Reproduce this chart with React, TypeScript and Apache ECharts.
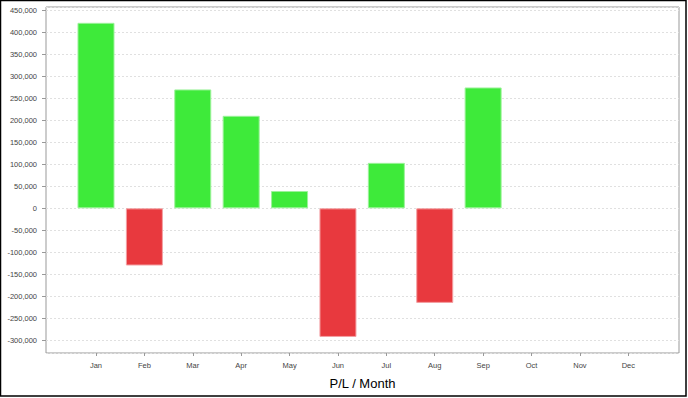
import React, { useEffect, useRef } from "react";
import * as echarts from "echarts";

const months = ["Jan", "Feb", "Mar", "Apr", "May", "Jun", "Jul", "Aug", "Sep", "Oct", "Nov", "Dec"];
const plValues: (number | null)[] = [422000, -130000, 270500, 210500, 39500, -292500, 103500, -215000, 275000, null, null, null];
const yMin = -329000;
const yMax = 458000;
const yStep = 50000;
const axisTitle = "P/L / Month";

const GREEN = "#3eea3a";
const GREEN_EDGE = "#9cf29a";
const RED = "#e8393e";
const RED_EDGE = "#f3a0a3";
const FONT = "'Liberation Sans', Arial, sans-serif";

export default function App() {
  const ref = useRef<HTMLDivElement>(null);
  useEffect(() => {
    if (!ref.current) return;
    const chart = echarts.init(ref.current, null, { renderer: "svg" });
    const yAxisCommon = {
      type: "value" as const,
      min: yMin,
      max: yMax,
      splitNumber: 16,
      minInterval: yStep,
      maxInterval: yStep,
    };
    chart.setOption({
      animation: false,
      backgroundColor: "#ffffff",
      grid: [
        { left: 46, top: 7, width: 633, height: 346, show: true, borderColor: "#999999", borderWidth: 1, backgroundColor: "#ffffff" },
        { left: 71.8, top: 7, width: 580.7, height: 346 },
      ],
      xAxis: [
        { type: "value", gridIndex: 0, show: false, min: 0, max: 1 },
        {
          type: "category",
          gridIndex: 1,
          data: months,
          boundaryGap: true,
          axisLine: { show: false, onZero: false },
          axisTick: { show: true, alignWithLabel: true, length: 3, lineStyle: { color: "#999999" } },
          axisLabel: { fontSize: 7.5, color: "#444444", fontFamily: FONT, margin: 8 },
          splitLine: { show: false },
        },
      ],
      yAxis: [
        {
          ...yAxisCommon,
          gridIndex: 0,
          axisLine: { show: false },
          axisTick: { show: true, length: 4, lineStyle: { color: "#999999" } },
          axisLabel: {
            fontSize: 7.5,
            color: "#444444",
            fontFamily: FONT,
            margin: 9,
            showMinLabel: false,
            showMaxLabel: false,
            formatter: (v: number) => (v % yStep === 0 ? v.toLocaleString("en-US") : ""),
          },
          splitLine: { show: true, lineStyle: { color: "#e0e0e0", type: [2, 2], width: 1 } },
        },
        { ...yAxisCommon, gridIndex: 1, show: false, splitLine: { show: false } },
      ],
      series: [
        {
          type: "bar",
          xAxisIndex: 1,
          yAxisIndex: 1,
          barWidth: 37,
          data: plValues.map((v) =>
            v === null
              ? null
              : {
                  value: v,
                  itemStyle: {
                    color: v >= 0 ? GREEN : RED,
                    borderColor: v >= 0 ? GREEN_EDGE : RED_EDGE,
                    borderWidth: 1,
                  },
                }
          ),
        },
      ],
      graphic: [
        {
          type: "rect",
          shape: { x: 0.5, y: 0.5, width: 685.5, height: 395.5 },
          style: { fill: "none", stroke: "#000000", lineWidth: 1.5 },
          silent: true,
          z: 100,
        },
        {
          type: "text",
          x: 362.5,
          y: 383,
          style: {
            text: axisTitle,
            fontSize: 13,
            fontFamily: FONT,
            fill: "#000000",
            textAlign: "center",
            textVerticalAlign: "middle",
          },
        },
      ],
    });
    return () => chart.dispose();
  }, []);
  return (
    <div style={{ position: "fixed", left: 0, top: 0, width: 688, height: 398, background: "#fff" }}>
      <div ref={ref} style={{ width: 688, height: 398 }} />
    </div>
  );
}
